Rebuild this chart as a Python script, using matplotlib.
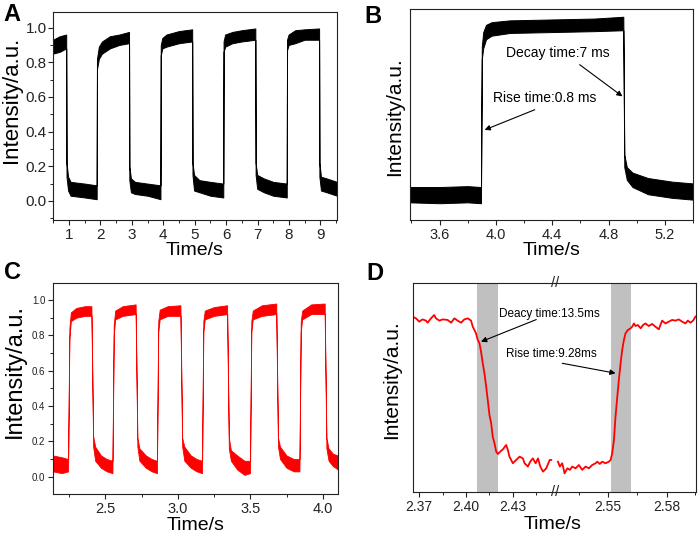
import matplotlib
matplotlib.use("Agg")
import matplotlib.pyplot as plt
from matplotlib.ticker import MultipleLocator, FixedLocator, FormatStrFormatter
import numpy as np

plt.rcParams['font.family'] = ['Liberation Sans', 'DejaVu Sans']

# ---------------- Panel A (black, full train) ----------------
a_t  = [0.49, 0.70, 0.91, 0.92, 0.97, 1.05, 1.50, 1.88, 1.89, 1.95, 2.05, 2.30, 2.60, 2.91,
        2.92, 2.97, 3.10, 3.50, 3.91, 3.92, 3.97, 4.10, 4.50, 4.92, 4.93, 4.98, 5.15, 5.50,
        5.91, 5.92, 5.97, 6.20, 6.50, 6.93, 6.94, 6.99, 7.20, 7.50, 7.93, 7.94, 7.99, 8.20,
        8.50, 8.96, 8.97, 9.02, 9.20, 9.53]
a_lo = [0.85, 0.86, 0.88, 0.14, 0.06, 0.03, 0.02, 0.01, 0.76, 0.82, 0.85, 0.88, 0.90, 0.91,
        0.12, 0.05, 0.04, 0.03, 0.01, 0.84, 0.88, 0.89, 0.91, 0.92, 0.15, 0.06, 0.05, 0.03,
        0.02, 0.86, 0.89, 0.91, 0.92, 0.93, 0.15, 0.07, 0.05, 0.03, 0.02, 0.87, 0.90, 0.91,
        0.93, 0.93, 0.14, 0.06, 0.05, 0.03]
a_hi = [0.93, 0.95, 0.96, 0.22, 0.14, 0.11, 0.10, 0.09, 0.82, 0.89, 0.92, 0.95, 0.96, 0.975,
        0.20, 0.13, 0.11, 0.10, 0.09, 0.90, 0.94, 0.96, 0.98, 0.99, 0.22, 0.15, 0.12, 0.11,
        0.10, 0.92, 0.96, 0.975, 0.985, 0.995, 0.22, 0.15, 0.13, 0.11, 0.10, 0.93, 0.96, 0.985,
        0.99, 0.995, 0.22, 0.14, 0.13, 0.11]

# ---------------- Panel B (black, one pulse) ----------------
b_t  = [3.39, 3.60, 3.80, 3.894, 3.900, 3.91, 3.93, 3.97, 4.10, 4.40, 4.70, 4.905,
        4.912, 4.93, 4.97, 5.08, 5.25, 5.40]
b_lo = [0.005, 0.0, 0.005, 0.0, 0.80, 0.86, 0.91, 0.93, 0.945, 0.95, 0.955, 0.96,
        0.20, 0.13, 0.09, 0.05, 0.03, 0.02]
b_hi = [0.09, 0.09, 0.095, 0.09, 0.87, 0.95, 0.99, 1.005, 1.015, 1.02, 1.025, 1.035,
        0.27, 0.20, 0.17, 0.14, 0.12, 0.11]

# ---------------- Panel C (red, full train) ----------------
c_t  = [2.139, 2.20, 2.243, 2.252, 2.262, 2.30, 2.36, 2.404, 2.416, 2.43, 2.47, 2.51,
        2.549, 2.558, 2.568, 2.62, 2.709, 2.721, 2.735, 2.78, 2.82,
        2.856, 2.865, 2.875, 2.93, 3.018, 3.030, 3.045, 3.09, 3.13,
        3.167, 3.176, 3.186, 3.25, 3.340, 3.352, 3.366, 3.41, 3.46,
        3.498, 3.507, 3.517, 3.58, 3.679, 3.691, 3.705, 3.75, 3.80,
        3.839, 3.848, 3.858, 3.92, 4.013, 4.025, 4.04, 4.07, 4.105]
c_lo = [0.03, 0.02, 0.03, 0.78, 0.88, 0.90, 0.91, 0.91, 0.17, 0.09, 0.05, 0.03,
        0.02, 0.80, 0.89, 0.91, 0.92, 0.17, 0.09, 0.05, 0.03,
        0.02, 0.82, 0.89, 0.91, 0.91, 0.17, 0.09, 0.05, 0.03,
        0.02, 0.82, 0.89, 0.91, 0.92, 0.16, 0.09, 0.04, 0.01,
        0.02, 0.82, 0.89, 0.91, 0.92, 0.17, 0.10, 0.05, 0.03,
        0.03, 0.82, 0.89, 0.92, 0.92, 0.16, 0.09, 0.06, 0.04]
c_hi = [0.12, 0.11, 0.10, 0.84, 0.93, 0.955, 0.965, 0.965, 0.23, 0.17, 0.12, 0.10,
        0.09, 0.86, 0.94, 0.965, 0.975, 0.22, 0.16, 0.12, 0.10,
        0.09, 0.88, 0.945, 0.965, 0.97, 0.22, 0.17, 0.12, 0.10,
        0.09, 0.88, 0.94, 0.96, 0.97, 0.22, 0.15, 0.12, 0.09,
        0.09, 0.88, 0.94, 0.97, 0.98, 0.22, 0.17, 0.12, 0.10,
        0.10, 0.88, 0.94, 0.975, 0.98, 0.22, 0.16, 0.13, 0.12]

# ---------------- Panel D (red, zoomed edges, broken axis) ----------------
d1_t = [2.3657, 2.3679, 2.3700, 2.3721, 2.3743, 2.3754, 2.3775, 2.3796, 2.3807, 2.3829,
        2.3850, 2.3882, 2.3904, 2.3925, 2.3946, 2.3968, 2.3989, 2.4011, 2.4032, 2.4043,
        2.4064, 2.4075, 2.4086, 2.4096, 2.4107, 2.4118, 2.4129, 2.4139, 2.4150, 2.4161,
        2.4171, 2.4182, 2.4193, 2.4204, 2.4219, 2.4236, 2.4257, 2.4268, 2.4278, 2.4300,
        2.4321, 2.4343, 2.4364, 2.4375, 2.4396, 2.4411, 2.4428, 2.4446, 2.4461, 2.4476,
        2.4493, 2.4514, 2.4536, 2.4546]
d1_v = [0.907, 0.897, 0.878, 0.891, 0.884, 0.872, 0.897, 0.916, 0.897, 0.884,
        0.891, 0.888, 0.872, 0.897, 0.884, 0.872, 0.891, 0.897, 0.884, 0.849,
        0.811, 0.773, 0.754, 0.706, 0.639, 0.581, 0.505, 0.428, 0.342, 0.294,
        0.218, 0.180, 0.132, 0.118, 0.132, 0.145, 0.170, 0.141, 0.103, 0.065,
        0.084, 0.103, 0.093, 0.065, 0.046, 0.074, 0.093, 0.065, 0.093, 0.046,
        0.017, 0.036, 0.084, 0.084]
d2_t = [2.5245, 2.5255, 2.5267, 2.5279, 2.5293, 2.5306, 2.5318, 2.5335, 2.5352, 2.5369,
        2.5386, 2.5403, 2.5420, 2.5437, 2.5446, 2.5459, 2.5471, 2.5488, 2.5505, 2.5514,
        2.5522, 2.5531, 2.5539, 2.5548, 2.5556, 2.5565, 2.5573, 2.5582, 2.5590, 2.5602,
        2.5616, 2.5624, 2.5633, 2.5641, 2.5653, 2.5667, 2.5680, 2.5692, 2.5709, 2.5726,
        2.5743, 2.5760, 2.5777, 2.5794, 2.5811, 2.5828, 2.5845, 2.5862, 2.5879, 2.5896,
        2.5908, 2.5922, 2.5935, 2.5947]
d2_v = [0.074, 0.046, 0.065, 0.007, 0.036, 0.027, 0.046, 0.036, 0.055, 0.027,
        0.046, 0.036, 0.055, 0.065, 0.074, 0.061, 0.074, 0.065, 0.074, 0.084,
        0.122, 0.199, 0.333, 0.447, 0.543, 0.639, 0.715, 0.773, 0.811, 0.830,
        0.840, 0.849, 0.868, 0.853, 0.859, 0.840, 0.859, 0.868, 0.853, 0.865,
        0.849, 0.834, 0.884, 0.868, 0.878, 0.888, 0.884, 0.891, 0.878, 0.868,
        0.884, 0.872, 0.884, 0.907]
d_bands = [(2.4068, 2.4203), (2.5517, 2.5616)]

W, H = 699, 539
def rect(l, t, r, b):
    return [l / W, 1 - b / H, (r - l) / W, (b - t) / H]

fig = plt.figure(figsize=(W / 100, H / 100), dpi=100)

def style(ax, fs, yticks=True):
    for s in ax.spines.values():
        s.set_linewidth(0.8)
        s.set_color('#222222')
    ax.tick_params(which='both', direction='out', top=False, right=False,
                   labelsize=fs, colors='#222222', pad=2)
    ax.tick_params(which='major', length=3.5, width=0.8)
    ax.tick_params(which='minor', length=2, width=0.7)
    if not yticks:
        ax.tick_params(axis='y', which='both', left=False, labelleft=False)

# ---- A ----
axA = fig.add_axes(rect(53, 12, 337, 220))
axA.fill_between(a_t, a_lo, a_hi, color='black', lw=0.7)
axA.set_xlim(0.49, 9.53)
axA.set_ylim(-0.11, 1.09)
axA.xaxis.set_major_locator(MultipleLocator(1))
axA.xaxis.set_minor_locator(MultipleLocator(0.5))
axA.yaxis.set_major_locator(MultipleLocator(0.2))
axA.yaxis.set_minor_locator(MultipleLocator(0.1))
axA.yaxis.set_major_formatter(FormatStrFormatter('%.1f'))
style(axA, 11)
axA.tick_params(axis='y', pad=1)
axA.set_xlabel('Time/s', fontsize=14)
axA.set_ylabel('Intensity/a.u.', fontsize=16)
axA.xaxis.set_label_coords(0.5, -0.108)
axA.yaxis.set_label_coords(-0.109, 0.577)

# ---- B ----
axB = fig.add_axes(rect(410, 9, 693, 220))
axB.fill_between(b_t, b_lo, b_hi, color='black', lw=0.7)
axB.set_xlim(3.39, 5.40)
axB.set_ylim(-0.093, 1.078)
axB.xaxis.set_major_locator(MultipleLocator(0.4))
axB.xaxis.set_minor_locator(MultipleLocator(0.2))
axB.xaxis.set_major_formatter(FormatStrFormatter('%.1f'))
style(axB, 10.5, yticks=False)
axB.set_xlabel('Time/s', fontsize=14)
axB.set_ylabel('Intensity/a.u.', fontsize=15)
axB.xaxis.set_label_coords(0.5, -0.106)
axB.yaxis.set_label_coords(-0.021, 0.488)
arw = dict(arrowstyle='-|>', color='black', lw=0.8, mutation_scale=8, shrinkA=0, shrinkB=0)
axB.text(4.074, 0.833, 'Decay time:7 ms', fontsize=10, ha='left', va='center')
axB.annotate('', xy=(4.899, 0.593), xytext=(4.595, 0.769), arrowprops=arw)
axB.text(3.979, 0.583, 'Rise time:0.8 ms', fontsize=10, ha='left', va='center')
axB.annotate('', xy=(3.92, 0.407), xytext=(4.276, 0.519), arrowprops=arw)

# ---- C ----
axC = fig.add_axes(rect(53, 283, 338, 494))
axC.fill_between(c_t, c_lo, c_hi, color='#ff0000', lw=0.6)
axC.set_xlim(2.139, 4.105)
axC.set_ylim(-0.098, 1.096)
axC.xaxis.set_major_locator(MultipleLocator(0.5))
axC.xaxis.set_minor_locator(MultipleLocator(0.25))
axC.xaxis.set_major_formatter(FormatStrFormatter('%.1f'))
axC.yaxis.set_major_locator(MultipleLocator(0.2))
axC.yaxis.set_minor_locator(MultipleLocator(0.1))
axC.yaxis.set_major_formatter(FormatStrFormatter('%.1f'))
style(axC, 10.5)
axC.tick_params(axis='y', labelsize=7)
axC.set_xlabel('Time/s', fontsize=14)
axC.set_ylabel('Intensity/a.u.', fontsize=17)
axC.xaxis.set_label_coords(0.5, -0.111)
axC.yaxis.set_label_coords(-0.095, 0.583)

# ---- D (broken x axis) ----
axD1 = fig.add_axes(rect(413, 283, 555, 492))
axD2 = fig.add_axes(rect(555, 283, 696, 492))
axD2.patch.set_alpha(0)
for ax, tt, vv in ((axD1, d1_t, d1_v), (axD2, d2_t, d2_v)):
    for b0, b1 in d_bands:
        ax.axvspan(b0, b1, color='#c0c0c0', lw=0, zorder=0)
    ax.plot(tt, vv, color='#ff0000', lw=1.3, zorder=2)
    ax.set_ylim(-0.1, 1.1)
    ax.xaxis.set_major_formatter(FormatStrFormatter('%.2f'))
    style(ax, 10, yticks=False)
axD1.set_xlim(2.366, 2.457)
axD2.set_xlim(2.523, 2.595)
axD1.xaxis.set_major_locator(FixedLocator([2.37, 2.40, 2.43]))
axD1.xaxis.set_minor_locator(FixedLocator([2.385, 2.415, 2.445]))
axD2.xaxis.set_major_locator(FixedLocator([2.55, 2.58]))
axD2.xaxis.set_minor_locator(FixedLocator([2.535, 2.565, 2.5945]))
axD1.spines['right'].set_visible(False)
axD2.spines['left'].set_visible(False)
for yy in (0, 1):
    axD1.text(1.0, yy, '//', transform=axD1.transAxes, ha='center', va='center',
              fontsize=10.5, color='#222222', clip_on=False, zorder=5)
axD1.set_xlabel('Time/s', fontsize=14)
axD1.xaxis.set_label_coords(0.986, -0.117)
axD1.set_ylabel('Intensity/a.u.', fontsize=15)
axD1.yaxis.set_label_coords(-0.085, 0.54)
axD1.text(2.4214, 0.922, 'Deacy time:13.5ms', fontsize=8.5, ha='left', va='center',
          clip_on=False, zorder=6)
axD1.annotate('', xy=(2.4096, 0.763), xytext=(2.445, 0.89), arrowprops=arw)
axD1.text(2.4253, 0.692, 'Rise time:9.28ms', fontsize=8.5, ha='left', va='center',
          clip_on=False, zorder=6)
axD2.annotate('', xy=(2.5539, 0.582), xytext=(2.5267, 0.639), arrowprops=arw,
              annotation_clip=False)

# panel letters
for lbl, x, y in (('A', 3, 3), ('B', 364, 5), ('C', 4, 261), ('D', 366, 262)):
    fig.text(x / W, 1 - y / H, lbl, fontsize=17, fontweight='bold', ha='left', va='top')

fig.savefig('out.png', dpi=100)
